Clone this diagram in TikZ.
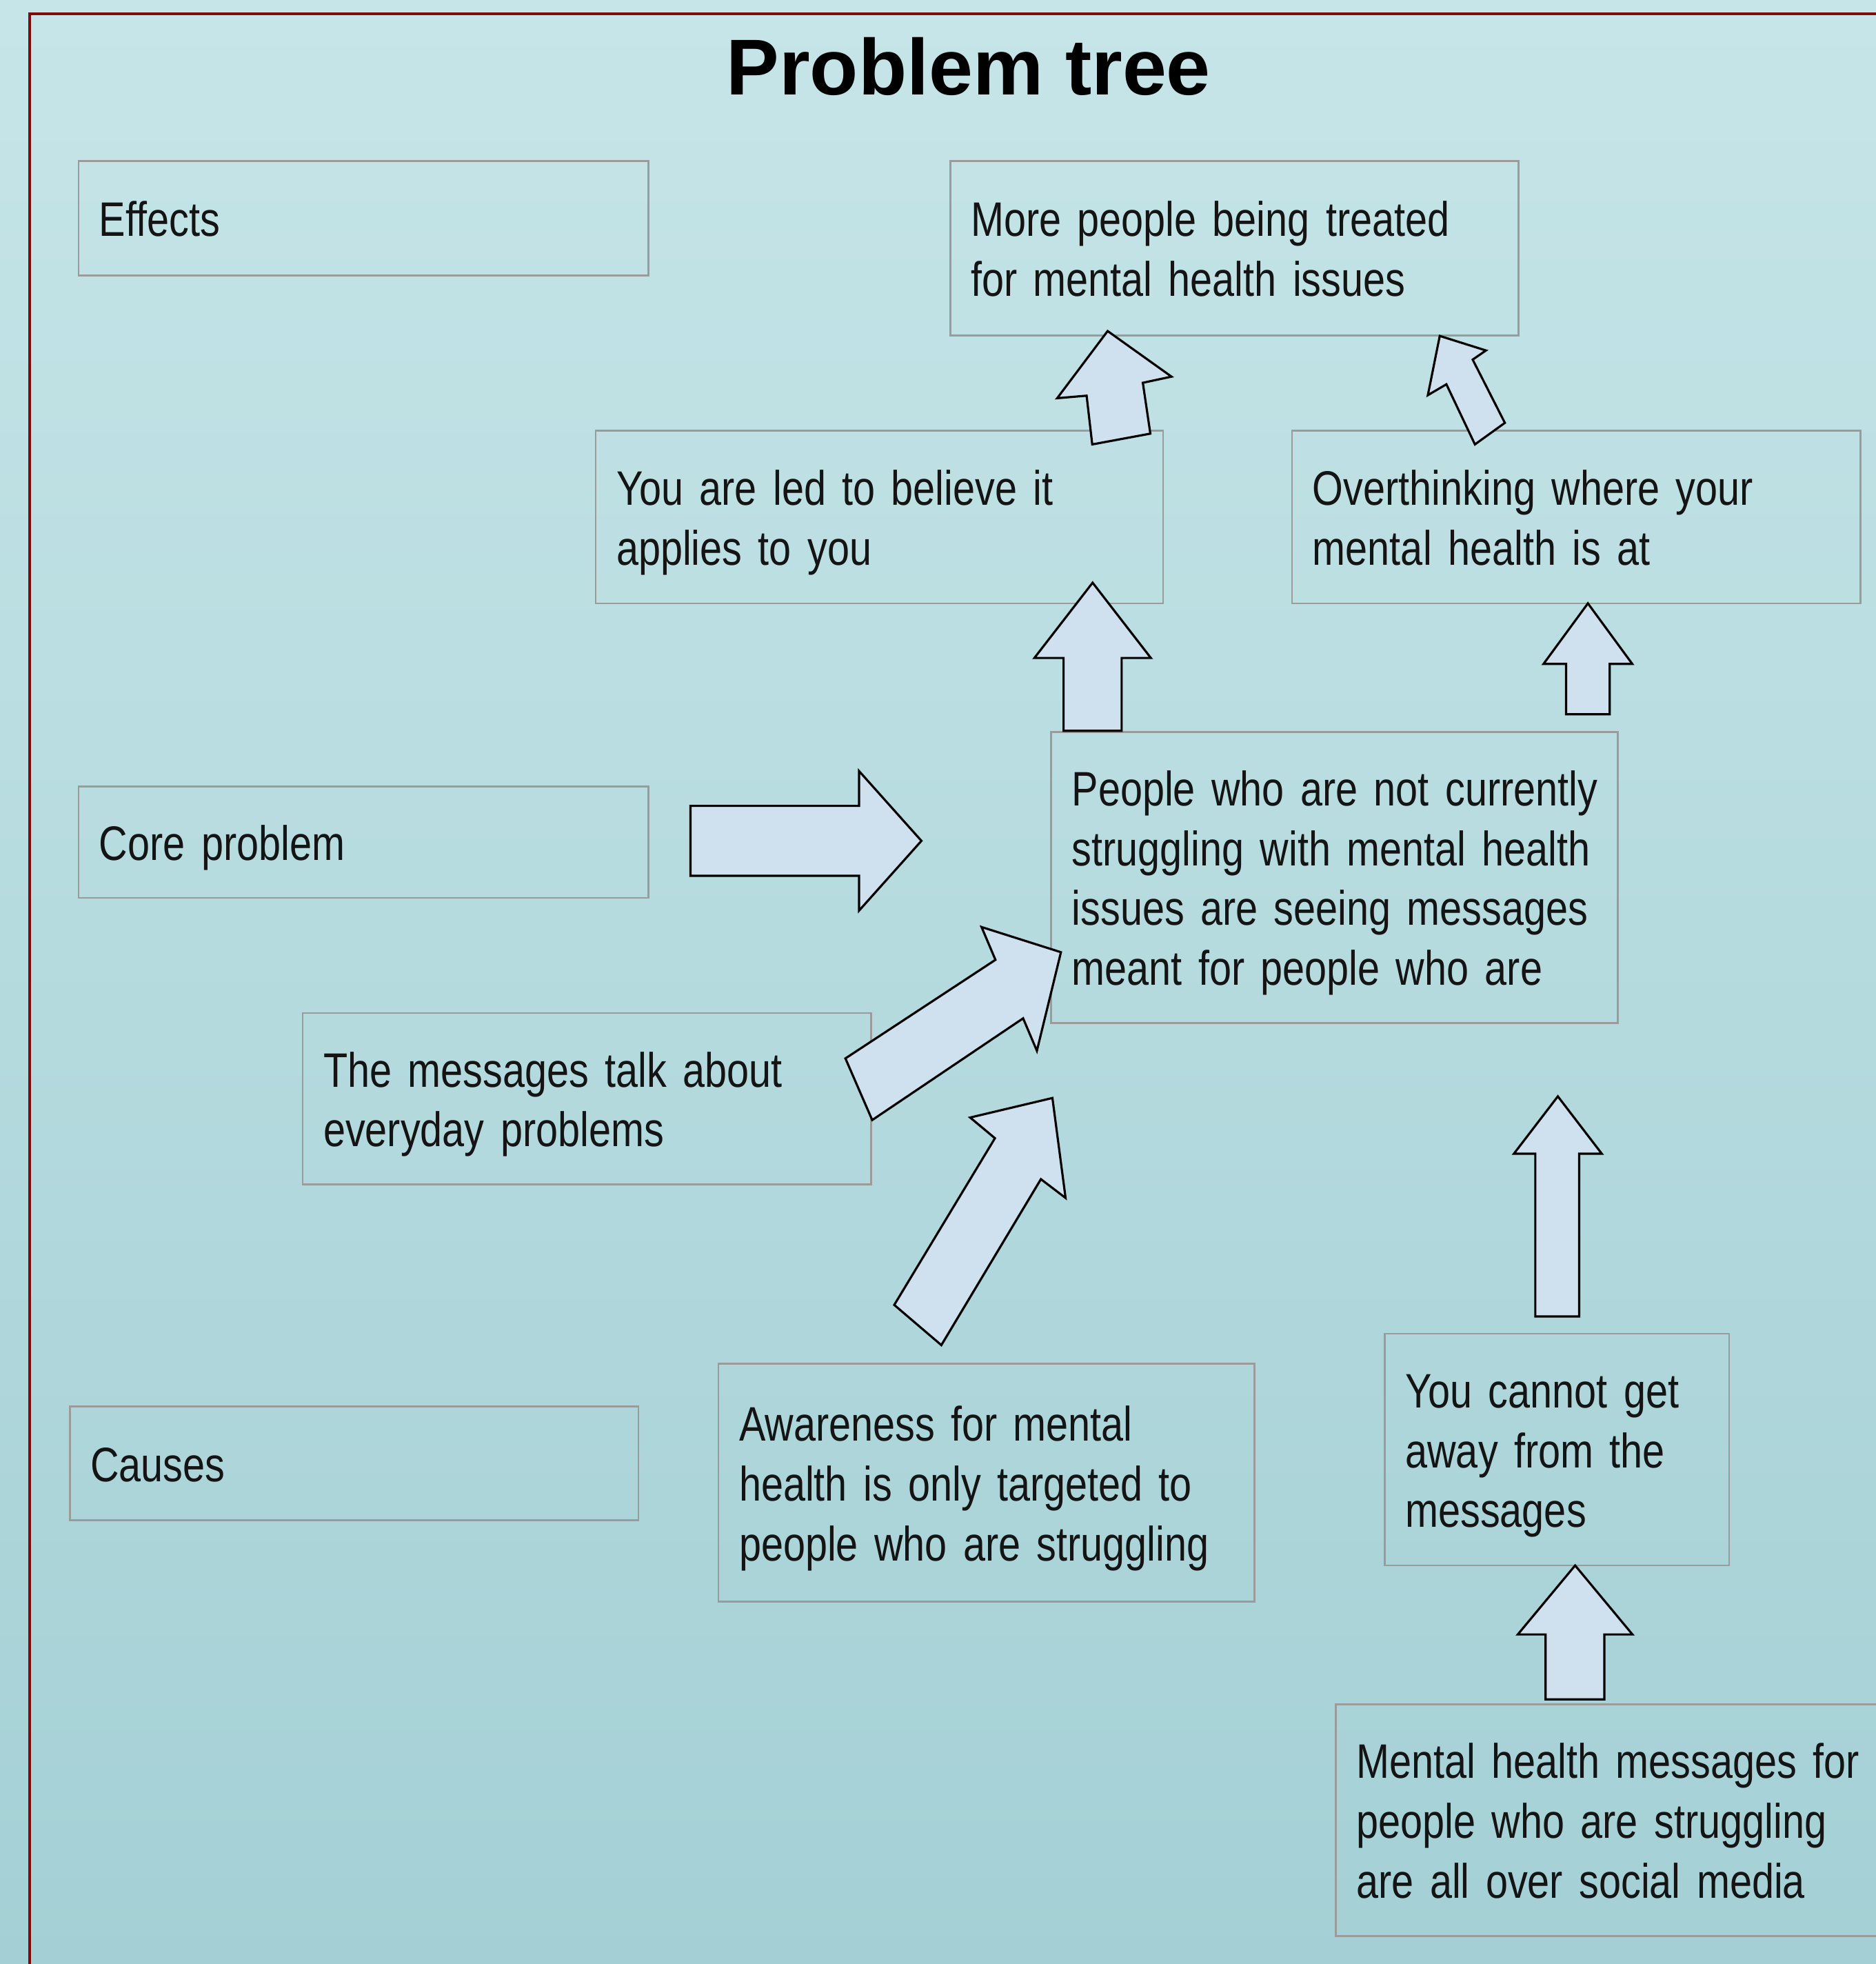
\documentclass[tikz,border=0pt]{standalone}
\usepackage{fontspec}
\setmainfont{Liberation Sans}[FakeStretch=0.82,WordSpace=0.65]
\newfontfamily\titlefont{Liberation Sans}
\definecolor{bgtop}{RGB}{198,229,232}
\definecolor{bgbot}{RGB}{164,208,213}
\definecolor{framered}{RGB}{125,12,12}
\definecolor{boxgray}{RGB}{155,155,155}
\definecolor{arrowfill}{RGB}{207,224,238}
\definecolor{ink}{RGB}{20,20,20}
\newcommand\Str{\rule[-5.4pt]{0pt}{27.2pt}}
\newcommand\Ln[1]{\mbox{\Str#1}}
\begin{document}
\begin{tikzpicture}[x=0.2mm,y=-0.2mm,
  tb/.style n args={3}{draw=boxgray, line width=0.3mm, anchor=north west,
    inner xsep=3.3mm, inner ysep=0pt, align=left, text=ink,
    font=\fontsize{22}{27.2}\selectfont,
    minimum width=#1, minimum height=#2, text width=#3},
  barrow/.style={draw=black, line width=0.35mm, fill=arrowfill, line join=miter}]
\clip (0,0) rectangle (1498,1568);
\shade[top color=bgtop, bottom color=bgbot] (0,0) rectangle (1498,1568);
\draw[framered, line width=0.45mm] (1520,11) -- (23.6,11) -- (23.6,1590);

% boxes
\node[tb={91mm}{18.2mm}{84.4mm}] (eff) at (62,128) {\Ln{Effects}};
\node[tb={90.8mm}{27.8mm}{84.2mm}] (more) at (758,128) {\Ln{More people being treated}\\\Ln{for mental health issues}};
\node[tb={90.6mm}{27.6mm}{84.0mm}] (led) at (475,343) {\Ln{You are led to believe it}\\\Ln{applies to you}};
\node[tb={90.8mm}{27.6mm}{84.2mm}] (over) at (1031,343) {\Ln{Overthinking where your}\\\Ln{mental health is at}};
\node[tb={91mm}{17.8mm}{84.4mm}] (core) at (62,627) {\Ln{Core problem}};
\node[tb={90.5mm}{46.5mm}{83.9mm}] (people) at (838.7,583.5) {\Ln{People who are not currently}\\\Ln{struggling with mental health}\\\Ln{issues are seeing messages}\\\Ln{meant for people who are}};
\node[tb={90.8mm}{27.4mm}{84.2mm}] (msgs) at (241,808) {\Ln{The messages talk about}\\\Ln{everyday problems}};
\node[tb={90.8mm}{18.2mm}{84.2mm}] (causes) at (55,1122) {\Ln{Causes}};
\node[tb={85.6mm}{38mm}{79mm}] (aware) at (573,1088) {\Ln{Awareness for mental}\\\Ln{health is only targeted to}\\\Ln{people who are struggling}};
\node[tb={55mm}{37mm}{48.4mm}] (cannot) at (1105,1064) {\Ln{You cannot get}\\\Ln{away from the}\\\Ln{messages}};
\node[tb={90.8mm}{37mm}{84.2mm}] (mental) at (1066,1360) {\Ln{Mental health messages for}\\\Ln{people who are struggling}\\\Ln{are all over social media}};

% block arrows
% core problem -> right
\filldraw[barrow] (551.4,643.4) -- (686,643.4) -- (686,615.6) -- (735.8,671.3) -- (686,727) -- (686,699.2) -- (551.4,699.2) -- cycle;
% messages -> people
\filldraw[barrow] (675.1,845.0) -- (794.9,766.3) -- (783.8,740.1) -- (847.2,760.2) -- (828,838.9) -- (817,813) -- (696.5,894.2) -- cycle;
% awareness -> people
\filldraw[barrow] (714.1,1041.8) -- (794.5,908.7) -- (774.7,892.2) -- (840.4,876.6) -- (850.9,956.4) -- (831.2,941.4) -- (751.7,1073.9) -- cycle;
% people -> led
\filldraw[barrow] (849.3,583.5) -- (849.3,525.3) -- (826,525.3) -- (872.5,465.2) -- (919,525.3) -- (895.7,525.3) -- (895.7,583.5) -- cycle;
% people -> overthinking
\filldraw[barrow] (1250.6,570.2) -- (1250.6,530) -- (1232.6,530) -- (1268,481.7) -- (1303.4,530) -- (1285.4,530) -- (1285.4,570.2) -- cycle;
% cannot -> people
\filldraw[barrow] (1226,1051) -- (1226,921.1) -- (1208.9,921.1) -- (1244,875.3) -- (1279.1,921.1) -- (1261,921.1) -- (1261,1051) -- cycle;
% mental -> cannot
\filldraw[barrow] (1234.2,1356.7) -- (1234.2,1304.9) -- (1212,1304.9) -- (1257.8,1249.8) -- (1303.6,1304.9) -- (1281.1,1304.9) -- (1281.1,1356.7) -- cycle;
% led -> more
\filldraw[barrow] (872.2,354.8) -- (867.7,315.9) -- (844.2,317.9) -- (884.5,264.3) -- (935.5,300.7) -- (912.6,305.6) -- (918.6,346.2) -- cycle;
% overthinking -> more
\filldraw[barrow] (1177.8,354.8) -- (1155,306.8) -- (1140.2,315.5) -- (1149.7,268.2) -- (1186.6,279.8) -- (1176,287.1) -- (1201.7,337.6) -- cycle;

% title
\node[anchor=base, text=black, font=\titlefont\bfseries\fontsize{36}{40}\selectfont] (title) at (773.4,75.9) {Problem tree};
\end{tikzpicture}
\end{document}
